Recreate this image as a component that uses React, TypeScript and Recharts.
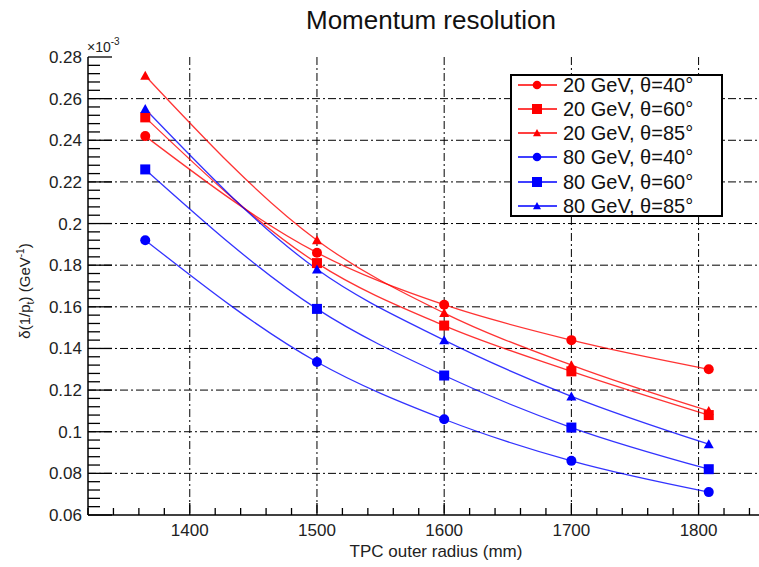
import React from 'react';
import { LineChart, Line, XAxis, YAxis, CartesianGrid, Legend } from 'recharts';

// ---- data (values in units of 10^-3 GeV^-1) ----
const radius = [1365, 1500, 1600, 1700, 1808];
const gev20theta40 = [0.242, 0.186, 0.161, 0.144, 0.130];
const gev20theta60 = [0.251, 0.181, 0.151, 0.129, 0.108];
const gev20theta85 = [0.271, 0.192, 0.157, 0.132, 0.110];
const gev80theta40 = [0.192, 0.1335, 0.106, 0.086, 0.071];
const gev80theta60 = [0.226, 0.159, 0.127, 0.102, 0.082];
const gev80theta85 = [0.255, 0.178, 0.144, 0.117, 0.094];

const seriesNames = [
  '20 GeV, θ=40°',
  '20 GeV, θ=60°',
  '20 GeV, θ=85°',
  '80 GeV, θ=40°',
  '80 GeV, θ=60°',
  '80 GeV, θ=85°',
];
const seriesValues = [gev20theta40, gev20theta60, gev20theta85, gev80theta40, gev80theta60, gev80theta85];
const seriesColors = ['#ff0000', '#ff0000', '#ff0000', '#0000ff', '#0000ff', '#0000ff'];
const seriesShapes = ['circle', 'square', 'triangle', 'circle', 'square', 'triangle'];

const xMajorTicks = [1400, 1500, 1600, 1700, 1800];
const xMinorTicks = [1320, 1340, 1360, 1380, 1420, 1440, 1460, 1480, 1520, 1540, 1560, 1580, 1620, 1640, 1660, 1680, 1720, 1740, 1760, 1780, 1820, 1840];
const yMajorTicks = [0.06, 0.08, 0.1, 0.12, 0.14, 0.16, 0.18, 0.2, 0.22, 0.24, 0.26, 0.28];
const yMajorLabels = ['0.06', '0.08', '0.1', '0.12', '0.14', '0.16', '0.18', '0.2', '0.22', '0.24', '0.26', '0.28'];
const xDomain = [1320, 1853];
const yDomain = [0.06, 0.28];

// minor y ticks: 4 subdivisions between majors
const yMinorTicks: number[] = [];
for (let i = 0; i < yMajorTicks.length - 1; i++) {
  for (let k = 1; k < 5; k++) {
    yMinorTicks.push(Math.round((yMajorTicks[i] * 1000 + k * 4)) / 1000);
  }
}
const xAllTicks = [...xMajorTicks, ...xMinorTicks].sort((a, b) => a - b);
const yAllTicks = [...yMajorTicks, ...yMinorTicks].sort((a, b) => a - b);

const data = radius.map((r, i) => {
  const row: any = { r };
  seriesValues.forEach((vals, s) => {
    row['s' + s] = vals[i];
  });
  return row;
});

const isMajorX = (v: number) => xMajorTicks.includes(v);
const isMajorY = (v: number) => yMajorTicks.some((m) => Math.abs(m - v) < 1e-6);
const labelY = (v: number) => {
  const idx = yMajorTicks.findIndex((m) => Math.abs(m - v) < 1e-6);
  return idx >= 0 ? yMajorLabels[idx] : '';
};

const FONT = '"Liberation Sans", Arial, Helvetica, sans-serif';

const Marker = ({ shape, cx, cy, color, size = 5 }: any) => {
  if (cx == null || cy == null) return null;
  if (shape === 'circle') return <circle cx={cx} cy={cy} r={size} fill={color} />;
  if (shape === 'square')
    return <rect x={cx - size} y={cy - size} width={size * 2} height={size * 2} fill={color} />;
  const h = size * 1.8;
  return (
    <polygon
      points={`${cx},${cy - h * 0.55} ${cx - size},${cy + h * 0.45} ${cx + size},${cy + h * 0.45}`}
      fill={color}
    />
  );
};

const BottomTick = (props: any) => {
  const { x, y, payload } = props;
  const v = payload.value;
  const major = isMajorX(v);
  return (
    <g>
      <line x1={x} x2={x} y1={y} y2={y - (major ? 12 : 7)} stroke="#000" strokeWidth={1.3} />
      {major && (
        <text x={x} y={y + 21} textAnchor="middle" fontSize={17} fill="#222" fontFamily={FONT}>
          {v}
        </text>
      )}
    </g>
  );
};

const TopTick = (props: any) => {
  const { x, y, payload } = props;
  const major = isMajorX(payload.value);
  return <line x1={x} x2={x} y1={y} y2={y + (major ? 14 : 8)} stroke="#000" strokeWidth={1.3} />;
};

const LeftTick = (props: any) => {
  const { x, y, payload } = props;
  const v = payload.value;
  const major = isMajorY(v);
  return (
    <g>
      <line x1={x} x2={x + (major ? 24 : 12)} y1={y} y2={y} stroke="#000" strokeWidth={1.3} />
      {major && (
        <text x={x - 6} y={y + 6} textAnchor="end" fontSize={17} fill="#222" fontFamily={FONT}>
          {labelY(v)}
        </text>
      )}
    </g>
  );
};

const RightTick = (props: any) => {
  const { x, y, payload } = props;
  const major = isMajorY(payload.value);
  return <line x1={x} x2={x - (major ? 24 : 12)} y1={y} y2={y} stroke="#000" strokeWidth={1.3} />;
};

const renderLegend = (props: any) => {
  const { payload } = props;
  return (
    <div
      style={{
        position: 'relative',
        width: 213,
        height: 143,
        boxSizing: 'border-box',
        border: '2px solid #000',
        background: '#fff',
        fontFamily: FONT,
      }}
    >
      {(payload || []).map((entry: any, i: number) => {
        const idx = seriesNames.indexOf(entry.value);
        const color = seriesColors[idx];
        const shape = seriesShapes[idx];
        return (
          <div
            key={entry.value}
            style={{ position: 'absolute', left: 0, top: -3 + i * 24.14, height: 24, width: 209 }}
          >
            <svg width={50} height={24} style={{ position: 'absolute', left: 0, top: 0 }}>
              <line x1={6} x2={45} y1={12} y2={12} stroke={color} strokeWidth={1.5} />
              <Marker shape={shape} cx={25} cy={12} color={color} size={shape === 'triangle' ? 4 : shape === 'square' ? 5 : 4.3} />
            </svg>
            <span
              style={{
                position: 'absolute',
                left: 51,
                top: 0,
                lineHeight: '24px',
                fontSize: 20,
                color: '#111',
                whiteSpace: 'nowrap',
              }}
            >
              {entry.value}
            </span>
          </div>
        );
      })}
    </div>
  );
};

export default function App() {
  return (
    <div
      style={{
        position: 'absolute',
        left: 0,
        top: 0,
        width: 759,
        height: 567,
        overflow: 'hidden',
        background: '#fff',
        fontFamily: FONT,
      }}
    >
      <LineChart width={780} height={567} data={data} margin={{ top: 57, right: 14, bottom: 0, left: 8 }}>
        <CartesianGrid
          horizontal
          vertical
          horizontalValues={yMajorTicks.slice(1, -1)}
          verticalValues={xMajorTicks}
          stroke="#000"
          strokeWidth={1}
          strokeDasharray="8 3 2 3"
          fill="none"
        />
        <XAxis
          dataKey="r"
          type="number"
          domain={xDomain}
          allowDataOverflow
          ticks={xAllTicks}
          interval={0}
          tick={<BottomTick />}
          tickSize={0}
          tickMargin={0}
          tickLine={false}
          height={52}
          axisLine={{ stroke: '#000', strokeWidth: 1.5 }}
        />
        <XAxis
          xAxisId="top"
          orientation="top"
          dataKey="r"
          type="number"
          domain={xDomain}
          allowDataOverflow
          ticks={xAllTicks}
          interval={0}
          tick={<TopTick />}
          tickSize={0}
          tickMargin={0}
          tickLine={false}
          height={0}
          axisLine={{ stroke: '#000', strokeWidth: 1.5 }}
        />
        <YAxis
          type="number"
          domain={yDomain}
          allowDataOverflow
          ticks={yAllTicks}
          interval={0}
          tick={<LeftTick />}
          tickSize={0}
          tickMargin={0}
          tickLine={false}
          width={80}
          axisLine={{ stroke: '#000', strokeWidth: 1.5 }}
        />
        <YAxis
          yAxisId="right"
          orientation="right"
          type="number"
          domain={yDomain}
          allowDataOverflow
          ticks={yAllTicks}
          interval={0}
          tick={<RightTick />}
          tickSize={0}
          tickMargin={0}
          tickLine={false}
          width={0}
          axisLine={{ stroke: '#000', strokeWidth: 1.5 }}
        />
        {seriesNames.map((name, s) => (
          <Line
            key={name}
            dataKey={'s' + s}
            name={name}
            type="monotone"
            stroke={seriesColors[s]}
            strokeWidth={1.3}
            strokeOpacity={0.8}
            isAnimationActive={false}
            dot={(p: any) => (
              <Marker key={name + '-' + p.index} shape={seriesShapes[s]} cx={p.cx} cy={p.cy} color={seriesColors[s]} size={5} />
            )}
            activeDot={false}
          />
        ))}
        <Legend
          layout="vertical"
          align="center"
          verticalAlign="middle"
          content={renderLegend}
          wrapperStyle={{ position: 'absolute', left: 510, top: 74, width: 213, height: 143 }}
        />
      </LineChart>
      <svg
        width={759}
        height={567}
        style={{ position: 'absolute', left: 0, top: 0, pointerEvents: 'none' }}
      >
        <text x={431} y={29} textAnchor="middle" fontSize={26} fill="#111" fontFamily={FONT}>
          Momentum resolution
        </text>
        <text x={436} y={557} textAnchor="middle" fontSize={17} fill="#222" fontFamily={FONT}>
          TPC outer radius (mm)
        </text>
        <text x={87} y={52} fontSize={14} fill="#222" fontFamily={FONT}>
          ×10
          <tspan dy={-7} fontSize={10}>-3</tspan>
        </text>
        <text
          transform="translate(30,291) rotate(-90)"
          textAnchor="middle"
          fontSize={15}
          fill="#222"
          fontFamily={FONT}
        >
          δ(1/p
          <tspan dy={4} fontSize={11}>t</tspan>
          <tspan dy={-4}>) (GeV</tspan>
          <tspan dy={-6} fontSize={10}>-1</tspan>
          <tspan dy={6}>)</tspan>
        </text>
      </svg>
    </div>
  );
}
